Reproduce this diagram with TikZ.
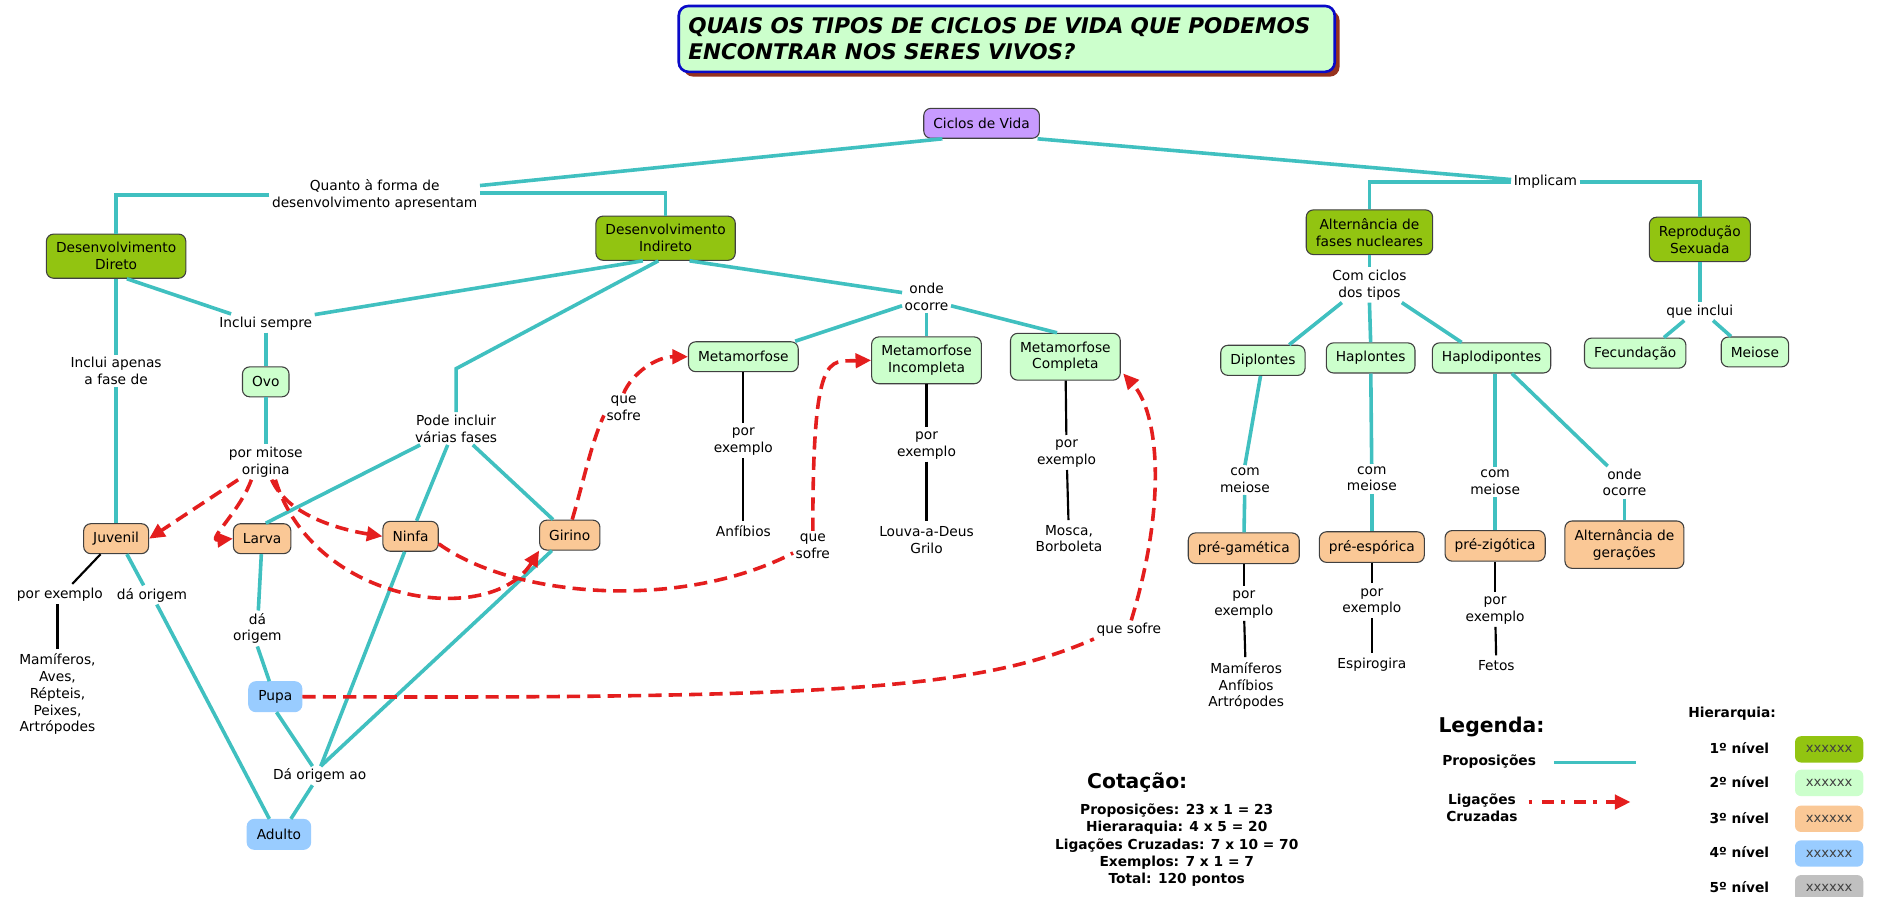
\documentclass[tikz,border=0pt]{standalone}
\usepackage{fontspec}
\setmainfont{DejaVu Sans}
\usetikzlibrary{arrows.meta,calc,shadows}
\definecolor{cteal}{RGB}{64,192,192}
\definecolor{cred}{RGB}{228,30,30}
\definecolor{cgreen}{RGB}{146,196,17}
\definecolor{clight}{RGB}{204,255,204}
\definecolor{corange}{RGB}{250,200,150}
\definecolor{cblue}{RGB}{153,204,255}
\definecolor{cpurple}{RGB}{200,155,255}
\definecolor{cgray}{RGB}{192,192,192}
\definecolor{cshadow}{RGB}{150,50,30}
\definecolor{ctitleb}{RGB}{10,10,200}
\begin{document}
\begin{tikzpicture}[x=1pt,y=-1pt,
  every node/.style={font=\fontsize{11.5}{14}\selectfont},
  box/.style={draw=black!75, line width=0.9pt, rounded corners=6pt, align=center,
              inner xsep=8pt, inner ysep=7pt, minimum height=25pt},
  l0/.style={box, fill=cpurple},
  l1/.style={box, fill=cgreen},
  l2/.style={box, fill=clight},
  l3/.style={box, fill=corange},
  l4/.style={box, fill=cblue, draw=cblue},
  lab/.style={align=center, inner sep=2pt},
  bold/.style={font=\fontsize{11.5}{14.3}\selectfont\bfseries, align=center, inner sep=1pt},
  big/.style={font=\fontsize{17}{20}\selectfont\bfseries, inner sep=1pt},
  sw/.style={rounded corners=5pt, minimum width=57pt, minimum height=22pt, inner sep=0pt,
             font=\fontsize{11}{12}\selectfont, text=black!75},
  prop/.style={draw=cteal, line width=3pt},
  exl/.style={draw=black, line width=1.8pt, shorten >=2pt},
  crossl/.style={draw=cred, line width=3pt, dash pattern=on 11pt off 6pt},
  cross/.style={crossl, -{Triangle[length=13pt,width=12pt]}}
]
\fill[white] (0,0) rectangle (1568,749);
\useasboundingbox (0,0) rectangle (1568,749);

% ---------- title
\node[draw=ctitleb, line width=2.2pt, fill=clight, rounded corners=8pt,
      minimum width=548pt, minimum height=55pt, text width=532pt, align=left,
      font=\fontsize{18}{22}\selectfont\bfseries\itshape,
      drop shadow={fill=cshadow, opacity=1, shadow xshift=4pt, shadow yshift=-4pt}]
      (title) at (841,32.5) {QUAIS OS TIPOS DE CICLOS DE VIDA QUE PODEMOS\\ENCONTRAR NOS SERES VIVOS?};

% ---------- concepts and phrases
\node[l0] (ciclos) at (820,103) {Ciclos de Vida};
\node[lab] (lq) at (313,163) {Quanto à forma de\\desenvolvimento apresentam};
\node[lab] (limp) at (1291,152) {Implicam};
\node[l1] (dd) at (97,214) {Desenvolvimento\\Direto};
\node[l1] (di) at (556,199) {Desenvolvimento\\Indireto};
\node[l1] (alt) at (1144,194) {Alternância de\\fases nucleares};
\node[l1] (rep) at (1420,200) {Reprodução\\Sexuada};

\node[lab] (lincs) at (222,270) {Inclui sempre};
\node[lab] (lap) at (97,310) {Inclui apenas\\a fase de};
\node[l2] (ovo) at (222,319) {Ovo};
\node[lab] (lmit) at (222,386) {por mitose\\origina};
\node[lab] (lpode) at (381,358) {Pode incluir\\várias fases};
\node[l3] (juv) at (97,450) {Juvenil};
\node[l3] (larva) at (219,450) {Larva};
\node[l3] (ninfa) at (343,448) {Ninfa};
\node[l3] (girino) at (476,447) {Girino};
\node[lab] (ljex) at (50,497) {por exemplo};
\node[lab] (ljor) at (127,497) {dá origem};
\node[lab] (exj) at (48,580) {Mamíferos,\\Aves,\\Répteis,\\Peixes,\\Artrópodes};
\node[lab] (llar) at (215,525) {dá\\origem};
\node[l4] (pupa) at (230,582) {Pupa};
\node[lab] (ldao) at (267,648) {Dá origem ao};
\node[l4] (adulto) at (233,697) {Adulto};

\node[lab] (londe) at (774,248) {onde\\ocorre};
\node[l2] (met) at (621,298) {Metamorfose};
\node[l2] (meti) at (774,301) {Metamorfose\\Incompleta};
\node[l2] (metc) at (890,298) {Metamorfose\\Completa};
\node[lab] (lpe1) at (621,369) {por\\exemplo};
\node[lab] (lpe2) at (774,372) {por\\exemplo};
\node[lab] (lpe3) at (891,379) {por\\exemplo};
\node[lab] (ex1) at (621,444) {Anfíbios};
\node[lab] (ex2) at (774,451) {Louva-a-Deus\\Grilo};
\node[lab] (ex3) at (893,450) {Mosca,\\Borboleta};
\node[lab] (ls1) at (521,341) {que\\sofre};
\node[lab] (ls2) at (679,456) {que\\sofre};
\node[lab] (ls3) at (943,526) {que sofre};

\node[lab] (lcc) at (1144,238) {Com ciclos\\dos tipos};
\node[l2] (dip) at (1055,301) {Diplontes};
\node[l2] (hap) at (1145,299) {Haplontes};
\node[l2] (hdip) at (1246,299) {Haplodipontes};
\node[lab] (lqi) at (1420,260) {que inclui};
\node[l2] (fec) at (1366,295) {Fecundação};
\node[l2] (mei) at (1466,294) {Meiose};
\node[lab] (lcm1) at (1040,401) {com\\meiose};
\node[lab] (lcm2) at (1146,400) {com\\meiose};
\node[lab] (lcm3) at (1249,403) {com\\meiose};
\node[lab] (lond2) at (1357,403) {onde\\ocorre};
\node[l3] (pg) at (1039,458) {pré-gamética};
\node[l3] (pe) at (1146,457) {pré-espórica};
\node[l3] (pz) at (1249,456) {pré-zigótica};
\node[l3] (altg) at (1357,455) {Alternância de\\gerações};
\node[lab] (lpe4) at (1039,505) {por\\exemplo};
\node[lab] (lpe5) at (1146,503) {por\\exemplo};
\node[lab] (lpe6) at (1249,510) {por\\exemplo};
\node[lab] (ex4) at (1041,573) {Mamíferos\\Anfíbios\\Artrópodes};
\node[lab] (ex5) at (1146,555) {Espirogira};
\node[lab] (ex6) at (1250,556) {Fetos};

% ---------- propositions (teal)
\draw[prop] ($(ciclos.south west)+(16,0)$) -- ($(lq.east)+(0,-8)$);
\draw[prop] ($(ciclos.south east)+(-2,0)$) -- ($(limp.west)+(0,-2)$);
\draw[prop] (lq.west) -| (dd.north);
\draw[prop] ($(lq.east)+(0,-2)$) -| (di.north);
\draw[prop] (limp.west) -| (alt.north);
\draw[prop] (limp.east) -| (rep.north);
\draw[prop] ($(dd.south)+(9,0)$) -- (lincs.165);
\draw[prop] ($(di.south)+(-19,0)$) -- (lincs.10);
\draw[prop] (lincs) -- (ovo);
\draw[prop] (ovo) -- (lmit);
\draw[prop] (dd) -- (lap);
\draw[prop] (lap) -- (juv);
\coordinate (bp) at (381,308);
\draw[prop] ($(di.south)+(-6,0)$) -- (bp) -- (lpode.north);
\draw[prop] ($(lpode.south)+(-30,0)$) -- ($(larva.north)+(3,0)$);
\draw[prop] ($(lpode.south)+(-7,0)$) -- ($(ninfa.north)+(5,0)$);
\draw[prop] ($(lpode.south)+(14,0)$) -- ($(girino.north)+(-14,0)$);
\draw[prop] (larva) -- (llar);
\draw[prop] (llar.south) -- ($(pupa.north)+(-5,0)$);
\draw[prop] ($(juv.south)+(9,0)$) -- ($(ljor.north)+(-7,0)$);
\draw[prop] ($(ljor.south)+(4,0)$) -- ($(adulto.north)+(-8,0)$);
\draw[prop] ($(pupa.south)+(1,0)$) -- ($(ldao.north)+(-6,0)$);
\draw[prop] ($(ninfa.south)+(-5,0)$) -- ($(ldao.north)+(1,0)$);
\draw[prop] ($(girino.south)+(-15,0)$) -- ($(ldao.north)+(1,0)$);
\draw[prop] ($(ldao.south)+(-6,0)$) -- ($(adulto.north)+(10,0)$);

\draw[prop] ($(di.south)+(20,0)$) -- (londe.170);
\draw[prop] (londe.200) -- ($(met.north east)+(-3,0)$);
\draw[prop] (londe) -- (meti);
\draw[prop] (londe.340) -- ($(metc.north)+(-7,0)$);

\draw[prop] (alt) -- (lcc);
\draw[prop] ($(lcc.south)+(-23,0)$) -- ($(dip.north)+(22,0)$);
\draw[prop] (lcc.south) -- (hap.north);
\draw[prop] ($(lcc.south)+(27,0)$) -- ($(hdip.north)+(-25,0)$);
\draw[prop] (rep) -- (lqi);
\draw[prop] ($(lqi.south)+(-13,0)$) -- ($(fec.north)+(24,0)$);
\draw[prop] ($(lqi.south)+(11,0)$) -- ($(mei.north)+(-20,0)$);
\draw[prop] ($(dip.south)+(-2,0)$) -- (lcm1.north);
\draw[prop] (lcm1) -- (pg);
\draw[prop] (hap) -- (lcm2);
\draw[prop] (lcm2) -- (pe);
\draw[prop] ($(hdip.south)+(3,0)$) -- (lcm3.north);
\draw[prop] (lcm3) -- (pz);
\draw[prop] ($(hdip.south)+(17,0)$) -- ($(lond2.north)+(-14,0)$);
\draw[prop] (lond2) -- (altg);

% ---------- examples (black)
\draw[exl] ($(juv.south)+(-13,0)$) -- ($(ljex.north)+(9,0)$);
\draw[exl] (exj.north |- ljex.south) -- (exj.north);
\draw[exl] (met) -- (lpe1);  \draw[exl] (lpe1) -- (ex1);
\draw[exl] (meti) -- (lpe2); \draw[exl] (lpe2) -- (ex2);
\draw[exl] (metc) -- (lpe3); \draw[exl] (lpe3) -- (ex3);
\draw[exl] (pg) -- (lpe4);   \draw[exl] (lpe4) -- (ex4);
\draw[exl] (pe) -- (lpe5);   \draw[exl] (lpe5) -- (ex5);
\draw[exl] (pz) -- (lpe6);   \draw[exl] (lpe6) -- (ex6);

% ---------- cross links (red dashed)
\draw[cross] ($(lmit.south west)+(10,0)$) -- (juv.east);
\draw[cross] ($(lmit.south)+(-12,0)$) .. controls (200,428) and (172,452) .. (larva.west);
\draw[cross] ($(lmit.south)+(5,0)$) .. controls (240,430) and (282,442) .. (ninfa.west);
\draw[cross] ($(lmit.south)+(8,0)$) .. controls (262,505) and (410,525) .. (girino.south west);
\draw[crossl] ($(girino.north)+(2,0)$) .. controls (488,400) and (494,370) .. (ls1.200);
\draw[cross] (ls1.north) .. controls (528,312) and (548,298) .. (met.west);
\draw[crossl] (ninfa.-15) .. controls (430,500) and (570,510) .. (ls2.200);
\draw[cross] (ls2.north) .. controls (679,292) and (692,302) .. (meti.west);
\draw[crossl] (pupa.east) .. controls (700,584) and (820,575) .. (ls3.south west);
\draw[cross] ($(ls3.north)+(2,0)$) .. controls (975,420) and (968,345) .. ($(metc.east)+(2,14)$);

% ---------- cotação
\node[big] (cot) at (950,654) {Cotação:};
\node[bold] (cotl) at (983,706) {Proposições: 23 x 1 = 23\\Hieraraquia: 4 x 5 = 20\\Ligações Cruzadas: 7 x 10 = 70\\Exemplos: 7 x 1 = 7\\Total: 120 pontos};

% ---------- legenda
\node[big] (leg) at (1246,607) {Legenda:};
\node[bold] (lgp) at (1244,636) {Proposições};
\coordinate (lp1) at (1298,637);
\coordinate (lp2) at (1367,637);
\draw[prop] (lp1) -- (lp2);
\node[bold] (lgc) at (1238,675) {Ligações\\Cruzadas};
\coordinate (lc1) at (1277,670);
\coordinate (lc2) at (1362,670);
\draw[cross, dash pattern=on 3pt off 8pt on 10pt off 6pt] (lc1) -- (lc2);

\node[bold] (hier) at (1447,596) {Hierarquia:};
\node[bold] (n1) at (1453,625) {1º nível};
\node[bold] (n2) at (1453,653) {2º nível};
\node[bold] (n3) at (1453,683) {3º nível};
\node[bold] (n4) at (1453,712) {4º nível};
\node[bold] (n5) at (1453,741) {5º nível};
\node[sw, fill=cgreen] (s1) at (1528,626) {xxxxxx};
\node[sw, fill=clight] (s2) at (1528,654) {xxxxxx};
\node[sw, fill=corange] (s3) at (1528,684) {xxxxxx};
\node[sw, fill=cblue] (s4) at (1528,713) {xxxxxx};
\node[sw, fill=cgray] (s5) at (1528,742) {xxxxxx};
\end{tikzpicture}
\end{document}
